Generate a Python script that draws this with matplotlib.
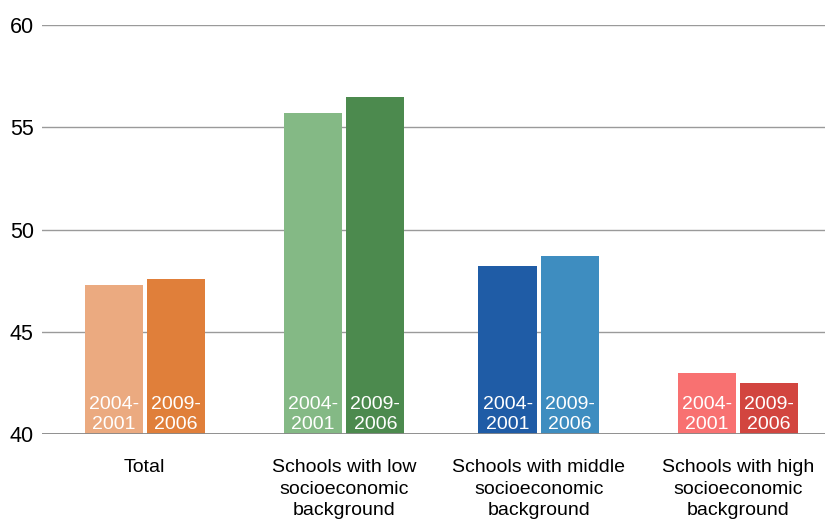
import numpy as np
import matplotlib.pyplot as plt

plt.rcParams['font.family'] = ['Liberation Sans', 'DejaVu Sans']

# share of students, two survey periods per school group
categories = ['Total', 'Schools with low\nsocioeconomic\nbackground',
              'Schools with middle\nsocioeconomic\nbackground',
              'Schools with high\nsocioeconomic\nbackground']
period_labels = ['2004-\n2001', '2009-\n2006']
values_first = [47.3, 55.7, 48.2, 43.0]
values_second = [47.6, 56.5, 48.7, 42.5]

colors_first = ['#EBAA80', '#84B985', '#1F5CA6', '#F87171']
colors_second = ['#E07F3A', '#4C8A4E', '#3E8DC0', '#D2453F']

fig = plt.figure(figsize=(8.25, 5.2), dpi=100)
ax = fig.add_axes([0.051, 0.165, 0.949, 0.787])

x = np.array([-0.005, 1.005, 1.99, 3.0])
width = 0.295
gap = 0.02
ymin = 40

pos1 = x - width / 2 - gap / 2
pos2 = x + width / 2 + gap / 2
ax.bar(pos1, np.array(values_first) - ymin, width, bottom=ymin, color=colors_first, zorder=2)
ax.bar(pos2, np.array(values_second) - ymin, width, bottom=ymin, color=colors_second, zorder=2)

for xs, lab in ((pos1, period_labels[0]), (pos2, period_labels[1])):
    for xi in xs:
        ax.annotate(lab, (xi, ymin), xytext=(0, 1), textcoords='offset points',
                    ha='center', va='bottom', color='white', fontsize=14,
                    linespacing=1.25, zorder=3)

ax.set_ylim(40, 60)
ax.set_xlim(-0.525, 3.44)
ax.set_yticks([40, 45, 50, 55, 60])
ax.set_xticks(x)
ax.set_xticklabels(categories, fontsize=14, linespacing=1.35)
ax.tick_params(axis='x', length=0, pad=18)
ax.tick_params(axis='y', length=0, pad=6, labelsize=15.5)

ax.grid(axis='y', color='#9a9a9a', linewidth=1, zorder=0)
ax.axhline(40, color='#888888', linewidth=2, zorder=4)
for s in ax.spines.values():
    s.set_visible(False)

fig.savefig('out.png', dpi=100)
